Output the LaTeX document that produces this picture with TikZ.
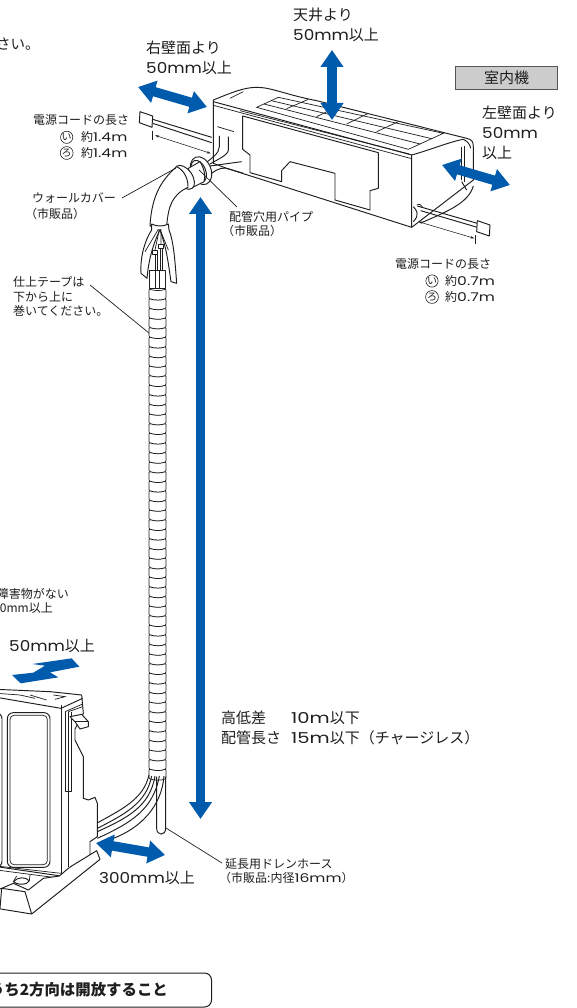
\documentclass[tikz,border=0pt]{standalone}
\usepackage{fontspec}
\usetikzlibrary{arrows.meta}
\setmainfont{Noto Sans CJK JP}
\newfontfamily\latf[FakeStretch=1.12]{Poppins}
\newfontfamily\latg[FakeStretch=1.3]{Poppins}
\newcommand{\lat}[1]{{\latf #1}}
\newcommand{\latw}[1]{{\latg #1}}
\definecolor{arrowblue}{HTML}{005BAC}
\definecolor{ink}{HTML}{1E1E1E}
\tikzset{
 ln/.style={draw=ink,line width=0.95pt,line join=round},
 thin ln/.style={draw=ink,line width=0.7pt},
 band/.style={draw=ink,line width=0.7pt,line join=round},
 big/.style={inner sep=0pt,anchor=west,font=\fontsize{15}{15}\selectfont,text=ink},
 small/.style={inner sep=0pt,anchor=west,font=\fontsize{12}{12}\selectfont,text=ink},
 mark ro/.style={circle,draw=ink,line width=0.6pt,inner sep=0pt,minimum size=12pt,font=\fontsize{10}{10}\selectfont,text=ink},
 fat/.style={draw=arrowblue,line width=9.5pt,{Triangle[length=17pt,width=22pt,fill=arrowblue]}-{Triangle[length=17pt,width=22pt,fill=arrowblue]},shorten >=0pt,shorten <=0pt},
 dim/.style={draw=ink,line width=0.55pt,{Stealth[length=4pt,width=2.5pt]}-{Stealth[length=4pt,width=2.5pt]}},
 zone/.style={shift={(130pt,0pt)},x=0.33333pt,y=-0.33333pt},
 ztwo/.style={shift={(0pt,-100pt)},x=0.33333pt,y=-0.33333pt},
 zthree/.style={shift={(0pt,-580pt)},x=0.33333pt,y=-0.33333pt},
 zfour/.style={shift={(0pt,-650pt)},x=0.33333pt,y=-0.33333pt},
 zfive/.style={shift={(0pt,-840pt)},x=0.33333pt,y=-0.33333pt},
 zsix/.style={shift={(125pt,-220pt)},x=0.33333pt,y=-0.33333pt},
}
\begin{document}
\begin{tikzpicture}[x=1pt,y=-1pt]
\useasboundingbox (0,0) rectangle (576,1008);
\clip (0,0) rectangle (576,1008);
\fill[white] (0,0) rectangle (576,1008);

% ---------- indoor unit ----------
\begin{scope}[zone]
 % body
 \path[ln,fill=white] (250,300) .. controls (300,280) and (340,262) .. (380,262) .. controls (425,262) and (470,285) .. (560,302) -- (1010,415) .. controls (1025,418) and (1030,425) .. (1030,440) -- (1030,540) -- (845,682) -- (290,505) -- (250,490) -- cycle;
 % front edge bands
 \draw[ln] (250,305) -- (845,465) -- (845,682);
 \draw[thin ln] (250,316) -- (845,476);
 \draw[thin ln] (330,332) -- (838,462);
 % end face
 \draw[ln] (845,465) .. controls (900,450) and (960,425) .. (1000,418);
 \draw[ln] (1000,418) .. controls (1015,425) and (1020,435) .. (1022,445);
 \draw[thin ln] (995,440) -- (995,540) (1003,438) -- (1003,545);
 \draw[ln] (995,545) -- (1010,570);
 % top grid
 \draw[thin ln] (380,322) -- (445,292) -- (940,400) -- (835,448) -- cycle;
 \draw[thin ln] (402,312) -- (870,432);
 \draw[thin ln] (424,302) -- (905,416);
 \draw[thin ln] (470,326) -- (535,298);
 \draw[thin ln] (560,350) -- (625,318);
 \draw[thin ln] (650,372) -- (715,340);
 \draw[thin ln] (740,395) -- (805,365);
 \draw[thin ln] (300,295) -- (340,275);
 % front panel
 \draw[ln] (338,348) -- (745,458) -- (745,565) -- (720,572) -- (720,630) -- (615,600) -- (615,520) -- (480,485) -- (455,512) -- (455,545) -- (360,518) -- (360,465) -- (338,448) -- cycle;
 % left cord
 \draw[ln] (245,412) -- (68,358);
 \draw[ln] (245,428) -- (68,370);
 \path[ln,fill=white] (30,335) -- (68,348) -- (66,382) -- (28,368) -- cycle;
 \draw[thin ln] (68,392) -- (68,420);
 \coordinate (dlA) at (75,406);
 \coordinate (dlB) at (242,460);
 \draw[dim] (dlA) -- (dlB);
 % hoses from left side
 \draw[thin ln] (262,380) -- (312,395);
 \draw[ln] (268,408) -- (268,440) .. controls (268,460) and (245,475) .. (225,490);
 \draw[ln] (295,410) -- (295,450) .. controls (295,465) and (260,480) .. (240,492);
 \draw[ln] (240,498) -- (335,485);
 \draw[ln] (245,520) .. controls (265,505) and (280,500) .. (300,508) -- (340,520);
 % right cord
 \draw[ln] (850,620) .. controls (860,630) and (870,645) .. (850,665);
 \draw[thin ln] (860,615) .. controls (868,610) and (875,615) .. (878,622);
 \draw[ln] (862,618) -- (1042,670);
 \draw[ln] (872,632) -- (1042,682);
 \path[ln,fill=white] (1042,662) -- (1080,675) -- (1078,708) -- (1040,695) -- cycle;
 \draw[thin ln] (1037,706) -- (1037,732);
 \coordinate (drA) at (865,665);
 \coordinate (drB) at (1033,715);
 \draw[dim] (drA) -- (drB);
 \draw[ln] (1030,558) .. controls (1015,610) and (950,635) .. (875,668);
\end{scope}

% ---------- taped pipe ----------
\foreach \yy in {288,297.6,...,770}{
 \pgfmathsetmacro{\yb}{\yy+9.6}
 \path[band,fill=white,rounded corners=1pt] (149,\yy+1) .. controls (155,\yy+3) and (161,\yy+3) .. (166,\yy+1) -- (166,\yb+1) .. controls (161,\yb+3) and (155,\yb+3) .. (149,\yb+1) -- cycle;
}

% ---------- wall cover ----------
\begin{scope}[ztwo]
 \path[ln,fill=white] (603,212) ellipse [x radius=10pt,y radius=14.5pt,rotate=22];
 \path[ln,fill=white] (596,214) ellipse [x radius=7pt,y radius=11.5pt,rotate=22];
 \path[ln,fill=white] (565,205) -- (600,185) .. controls (612,205) and (618,225) .. (612,245) -- (578,262) -- cycle;
 \path[ln,fill=white] (553,232) ellipse [x radius=8pt,y radius=13.5pt,rotate=35];
 \path[ln,fill=white] (530,200) .. controls (490,235) and (455,280) .. (450,378) .. controls (465,385) and (485,385) .. (500,378) .. controls (505,320) and (515,285) .. (564,262) .. controls (565,240) and (555,212) .. (530,200) -- cycle;
\end{scope}
\begin{scope}[zsix]
 % opened tape and tubes
 \path[ln,fill=white] (80,12) .. controls (95,20) and (115,20) .. (130,12) -- (132,30) .. controls (145,60) and (150,120) .. (155,190) -- (138,185) .. controls (130,130) and (125,85) .. (105,30) .. controls (80,80) and (70,130) .. (66,175) -- (48,160) .. controls (45,110) and (60,60) .. (80,30) -- cycle;
 \draw[thin ln] (100,28) -- (60,95) (105,28) -- (130,90) (103,28) -- (90,90) (108,28) -- (108,75);
 \draw[thin ln] (90,100) -- (90,150) (97,100) -- (97,150) (105,80) -- (105,150) (112,80) -- (112,150);
 \path[ln,fill=white] (82,92) rectangle (96,103);
 \path[ln,fill=white] (100,72) rectangle (114,84);
 \path[ln,fill=white] (72,150) -- (72,205) -- (122,205) -- (122,150) -- cycle;
 \draw[thin ln] (90,150) -- (90,205) (104,150) -- (104,205);
\end{scope}

% ---------- lower hoses ----------
\begin{scope}[zthree]
 \draw[ln] (470,590) -- (470,745) .. controls (470,768) and (497,768) .. (497,745) -- (497,590);
 \draw[ln] (447,585) .. controls (430,660) and (360,690) .. (290,730);
 \draw[ln] (455,588) .. controls (440,670) and (370,705) .. (292,745);
 \draw[ln] (465,588) .. controls (450,680) and (380,715) .. (292,755);
 \draw[ln] (478,588) .. controls (460,690) and (390,730) .. (292,775);
 \draw[ln] (492,588) .. controls (485,680) and (420,745) .. (340,775);
\end{scope}

% ---------- outdoor unit ----------
\begin{scope}[zthree]
 \path[ln,fill=white] (-10,328) -- (150,335) -- (245,345) -- (250,400) -- (225,447) -- (225,480) -- (250,530) -- (250,655) -- (265,660) -- (285,652) -- (292,670) -- (292,770) -- (270,785) -- (270,825) -- (183,888) -- (-10,860) -- cycle;
 \draw[ln] (-10,352) -- (183,385) -- (248,355);
 \draw[thin ln] (183,375) -- (183,888);
 \draw[thin ln] (-10,340) -- (60,345) -- (105,355) (90,345) -- (140,360) (160,345) -- (195,350) -- (165,358);
 \draw[thin ln] (195,395) -- (248,372) (205,395) -- (248,380);
 \draw[thin ln] (205,395) -- (205,860);
 \draw[ln] (195,395) -- (195,635) -- (213,635) -- (213,395);
 \path[ln,fill=white] (210,410) -- (245,403) -- (265,425) -- (265,440) -- (240,447) -- (225,425) -- cycle;
 \draw[thin ln] (225,425) -- (265,425);
 \draw[ln,rounded corners=6pt] (22,398) rectangle (150,862);
 \draw[thin ln,rounded corners=4pt] (30,406) rectangle (142,854);
 \draw[ln,rounded corners=6pt] (-30,398) rectangle (6,862);
 \draw[thin ln] (-10,870) -- (183,895) (195,880) -- (270,825);
 \draw[thin ln] (-10,858) -- (183,880);
\end{scope}
\begin{scope}[zfive]
 \path[ln,fill=white] (5,145) -- (75,155) -- (95,222) -- (300,58) -- (290,32) -- (215,78) -- (205,85) -- (178,108) -- (130,115) -- (85,150) -- (40,130) -- (5,145) -- (-10,150) -- (-10,205) -- (95,222);
 \draw[ln] (5,145) -- (0,205);
 \draw[ln] (40,125) .. controls (55,110) and (75,110) .. (88,122) -- (80,130) .. controls (65,135) and (50,133) .. (40,125);
 \draw[thin ln] (50,108) -- (40,125) (90,105) -- (88,122);
\end{scope}

% ---------- fat arrows ----------
\coordinate (ceilA) at (332,50);
\coordinate (ceilB) at (332,120);
\draw[fat] (ceilA) -- (ceilB);
\coordinate (rwA) at (138,87);
\coordinate (rwB) at (207,107);
\draw[fat] (rwA) -- (rwB);
\coordinate (lwA) at (442,165);
\coordinate (lwB) at (510,185);
\draw[fat] (lwA) -- (lwB);
\coordinate (htA) at (200.5,197);
\coordinate (htB) at (200.5,819);
\draw[fat] (htA) -- (htB);
\coordinate (clA) at (96,843);
\coordinate (clB) at (165,855);
\draw[fat] (clA) -- (clB);
\begin{scope}[zfour]
 \fill[arrowblue] (97,42) -- (215,25) -- (238,50) -- (150,67) -- (175,82) -- (62,100) -- (36,75) -- (100,68) -- (135,47) -- cycle;
\end{scope}

% ---------- leaders ----------
\coordinate (lcover) at (122,198);
\coordinate (lcoverE) at (176,168);
\draw[thin ln] (lcover) -- (lcoverE);
\coordinate (lsleeve) at (237,207);
\coordinate (lsleeveE) at (199,170);
\draw[thin ln] (lsleeve) -- (lsleeveE);
\coordinate (ltape) at (90,285);
\coordinate (ltapeE) at (149,333);
\draw[thin ln] (ltape) -- (ltapeE);
\coordinate (ldrain) at (222,863);
\coordinate (ldrainE) at (166,828);
\draw[thin ln] (ldrain) -- (ldrainE);

% ---------- texts ----------
\node[inner sep=0pt,anchor=west,font=\fontsize{14.5}{14.5}\selectfont,text=ink] (tCut) at (-4,44) {さい。};
\node[big] (tRw1) at (146,48) {右壁面より};
\node[big] (tRw2) at (146,68) {\lat{50mm}以上};
\node[big] (tCl1) at (293,15) {天井より};
\node[big] (tCl2) at (293,35) {\lat{50mm}以上};
\node[draw=ink!75,line width=1pt,fill=black!20,minimum width=102pt,minimum height=22.5pt,inner sep=0pt,font=\fontsize{15}{15}\selectfont,text=ink] (tBox) at (506.5,78) {室内機};
\node[big] (tLw1) at (482,113) {左壁面より};
\node[big] (tLw2) at (482,133) {\lat{50mm}};
\node[big] (tLw3) at (482,153) {以上};
\node[small] (tCordL) at (33,120) {電源コードの長さ};
\node[mark ro] (cIL) at (66.7,137.3) {い};
\node[small] (tL1) at (81,137.3) {約\latw{1.4m}};
\node[mark ro] (cRL) at (66.7,153) {ろ};
\node[small] (tL2) at (81,153) {約\latw{1.4m}};
\node[small] (tCover1) at (32,198) {ウォールカバー};
\node[small] (tCover2) at (25,214) {（市販品）};
\node[small] (tSleeve1) at (229,217) {配管穴用パイプ};
\node[small] (tSleeve2) at (222,231) {（市販品）};
\node[small] (tCordR) at (395,264) {電源コードの長さ};
\node[mark ro] (cIR) at (432,281) {い};
\node[small] (tR1) at (445,281) {約\latw{0.7m}};
\node[mark ro] (cRR) at (432,297) {ろ};
\node[small] (tR2) at (445,297) {約\latw{0.7m}};
\node[small] (tTape1) at (13,282) {仕上テープは};
\node[small] (tTape2) at (13,297) {下から上に};
\node[small] (tTape3) at (13,311) {巻いてください。};
\node[small,anchor=east] (tObs1) at (69,594) {障害物がない};
\node[small,anchor=east] (tObs2) at (53,608) {0mm以上};
\node[big] (tBack) at (9,646) {\lat{50mm}以上};
\node[big] (tH1) at (221,718) {高低差};
\node[big] (tH2) at (291,718) {\latw{10m}以下};
\node[big] (tP1) at (221,738) {配管長さ};
\node[big] (tP2) at (291,738) {\latw{15m}以下（チャージレス）};
\node[big] (tSide) at (99,878) {\lat{300mm}以上};
\node[small] (tDrain1) at (225,864) {延長用ドレンホース};
\node[small] (tDrain2) at (219,878) {（市販品:内径\latw{16mm}）};
\path[draw=ink,line width=1pt,fill=white,rounded corners=7pt] (-20,973) rectangle (211.5,1007);
\node[inner sep=0pt,anchor=east,font=\fontsize{15.4}{15.4}\selectfont\bfseries,text=ink] (tOpen) at (168,990) {うち2方向は開放すること};
\end{tikzpicture}
\end{document}
